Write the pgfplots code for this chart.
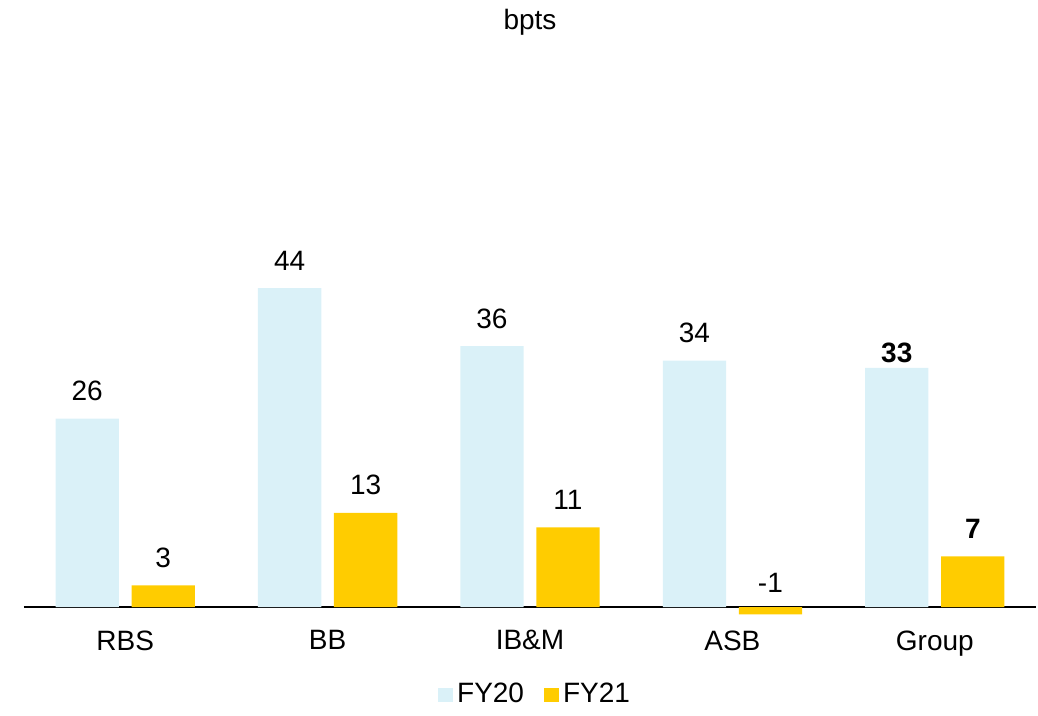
\documentclass[border=0pt]{standalone}
\usepackage{pgfplots}
\pgfplotsset{compat=1.18}
\usepackage{fontspec}
\setmainfont{Liberation Sans}
\definecolor{fyA}{HTML}{DAF1F8}
\definecolor{fyB}{HTML}{FFCC00}
\newcommand\lowbold[1]{\raisebox{-6pt}[0pt][0pt]{\textbf{#1}}}
\newcommand\upnum[1]{\raisebox{2pt}{#1}}
\begin{document}
\fontsize{14}{17}\selectfont
\begin{tikzpicture}
\begin{axis}[
  scale only axis,
  width=506pt, height=280.9pt,
  xmin=-0.5, xmax=4.5, ymin=-2.5, ymax=75,
  ybar=6.35pt, bar width=31.65pt,
  axis line style={draw=none},
  xtick={0,1,2,3,4},
  xticklabels={RBS,BB,IB\&M,ASB,Group},
  xtick style={draw=none},
  ytick=\empty,
  extra y ticks={0},
  extra y tick labels={},
  extra y tick style={grid=major, major grid style={black, line width=0.9pt}, tick style={draw=none}},
  tick label style={font=\fontsize{14}{17}\selectfont},
  xticklabel style={yshift=6.5pt},
  point meta=explicit symbolic,
  nodes near coords,
  every node near coord/.append style={anchor=south, font=\fontsize{14}{17}\selectfont, yshift=4pt, text=black},
  every axis title shift=0pt,
  title={bpts},
  title style={at={(axis description cs:0.5,1.073)}, anchor=center, font=\fontsize{14}{17}\selectfont},
  legend columns=2,
  legend style={at={(axis description cs:0.506,-0.1246)}, anchor=center, draw=none, fill=none,
    font=\fontsize{14}{17}\selectfont, /tikz/every even column/.append style={column sep=8pt}},
  legend image code/.code={\fill[#1] (0pt,-3.5pt) rectangle (7.5pt,3.5pt);},
]
\addplot[fill=fyA, draw=none] coordinates {(0,26) [26] (1,44) [44] (2,36) [36] (3,34) [34] (4,33) [\lowbold{33}]};
\addplot[fill=fyB, draw=none] coordinates {(0,3) [3] (1,13) [13] (2,11) [11] (3,-1) [\upnum{-1}] (4,7) [\textbf{7}]};
\legend{FY20,FY21}
\end{axis}
\path ([xshift=-12pt,yshift=-42pt]current axis.south west) rectangle ([xshift=1pt,yshift=31.5pt]current axis.north east);
\end{tikzpicture}
\end{document}
